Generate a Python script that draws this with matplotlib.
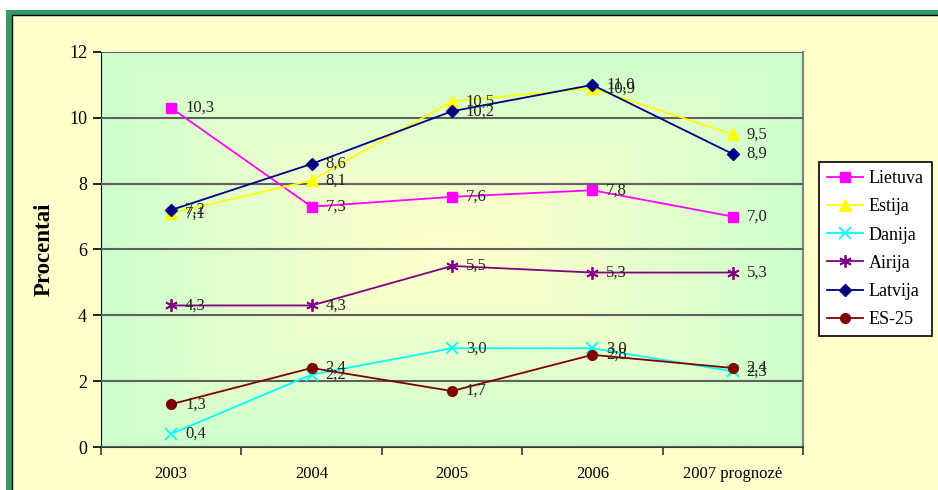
import matplotlib.pyplot as plt
import numpy as np
from matplotlib.patches import Rectangle

plt.rcParams['font.family'] = ['Liberation Serif', 'DejaVu Serif']

# data
years = ['2003', '2004', '2005', '2006', '2007 prognozė']
lietuva = [10.3, 7.3, 7.6, 7.8, 7.0]
estija = [7.1, 8.1, 10.5, 10.9, 9.5]
danija = [0.4, 2.2, 3.0, 3.0, 2.3]
airija = [4.3, 4.3, 5.5, 5.3, 5.3]
latvija = [7.2, 8.6, 10.2, 11.0, 8.9]
es25 = [1.3, 2.4, 1.7, 2.8, 2.4]

series = [
    ('Lietuva', lietuva, '#ff00ff', 's', 7),
    ('Estija', estija, '#ffff00', '^', 8),
    ('Danija', danija, '#00ffff', 'x', 8),
    ('Airija', airija, '#800080', (6, 2, 0), 9),
    ('Latvija', latvija, '#000080', 'D', 6),
    ('ES-25', es25, '#800000', 'o', 7),
]

W, H = 938, 490
fig = plt.figure(figsize=(W / 100, H / 100), dpi=100)
fig.patch.set_facecolor('white')

# outer frame: green band, then black line, then yellow inside
fig.patches.append(Rectangle((6 / W, -0.1), 1.1, (H - 10) / H + 0.1, transform=fig.transFigure,
                             facecolor='#339966', edgecolor='none', zorder=-10))
fig.patches.append(Rectangle((12 / W, -0.1), 1.1, (H - 15) / H + 0.1, transform=fig.transFigure,
                             facecolor='#ffffcc', edgecolor='black', linewidth=1, zorder=-9))

ax = fig.add_axes([101 / W, (H - 447) / H, 702 / W, 395 / H])

# background gradient: yellow centre, green edges
gx, gy = np.meshgrid(np.linspace(-1, 1, 300), np.linspace(-1, 1, 200))
t = np.maximum(np.abs(gx), np.abs(gy)) ** 1.2
green = np.array([0xcc, 0xff, 0xcc]) / 255
yellow = np.array([0xff, 0xff, 0xcc]) / 255
img = yellow[None, None, :] * (1 - t[..., None]) + green[None, None, :] * t[..., None]
ax.imshow(img, extent=[-0.5, 4.5, 0, 12], aspect='auto', zorder=0)

x = np.arange(len(years))
for name, vals, col, mk, ms in series:
    mew = 1.3 if mk in ('x',) or isinstance(mk, tuple) else 1
    ax.plot(x, vals, color=col, marker=mk, markersize=ms, linewidth=1.3,
            markeredgewidth=mew, markeredgecolor=col, label=name, zorder=3)
    for xi, v in zip(x, vals):
        ax.annotate(f'{v:.1f}'.replace('.', ','), (xi, v), xytext=(10, 0),
                    textcoords='offset points', va='center', ha='left',
                    fontsize=12, color='#222222', zorder=4)

ax.set_xlim(-0.5, 4.5)
ax.set_ylim(0, 12)
ax.set_yticks(range(0, 13, 2))
ax.yaxis.grid(True, color='#606060', linewidth=1.5)
ax.set_axisbelow(False)
for gl in ax.get_ygridlines():
    gl.set_zorder(1)
ax.set_xticks(x)
ax.set_xticklabels(years)
ax.set_xticks(np.arange(-0.5, 5, 1), minor=True)
ax.tick_params(axis='x', which='major', length=0, pad=14, labelsize=12)
ax.tick_params(axis='x', which='minor', length=6, width=1.2, color='#333333')
ax.tick_params(axis='y', length=6, width=1.2, labelsize=13, pad=4)
ax.spines['left'].set_color('black')
ax.spines['bottom'].set_color('#333333')
ax.spines['bottom'].set_linewidth(1.5)
ax.spines['right'].set_color('#808080')
ax.spines['right'].set_linewidth(1.5)
ax.spines['top'].set_visible(False)

ax.set_ylabel('Procentai', fontsize=16.5, fontweight='bold', labelpad=10)

leg = ax.legend(loc='upper left', bbox_to_anchor=(819 / W, (H - 162) / H),
                bbox_transform=fig.transFigure, fontsize=13, frameon=True,
                fancybox=False, edgecolor='black', framealpha=1,
                handlelength=2.0, labelspacing=0.62, borderpad=0.45,
                handletextpad=0.3, borderaxespad=0)
leg.get_frame().set_linewidth(1.2)

fig.savefig('out.png', dpi=100)
